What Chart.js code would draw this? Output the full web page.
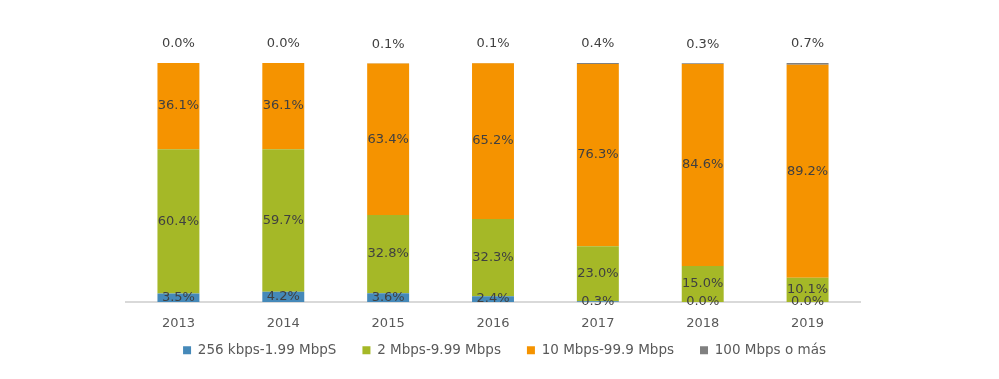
<!DOCTYPE html>
<html>
<head>
<meta charset="utf-8">
<script src="https://cdn.jsdelivr.net/npm/chart.js@4/dist/chart.umd.min.js"></script>
<style>
  body { margin: 0; background: #fff; }
</style>
</head>
<body>
<canvas id="chart" width="999" height="379"></canvas>
<script>
// years on the x axis
const years = ['2013', '2014', '2015', '2016', '2017', '2018', '2019'];

// share of connections per speed band (%)
const band256k = [3.5, 4.2, 3.6, 2.4, 0.3, 0.0, 0.0];
const band2M = [60.4, 59.7, 32.8, 32.3, 23.0, 15.0, 10.1];
const band10M = [36.1, 36.1, 63.4, 65.2, 76.3, 84.6, 89.2];
const band100M = [0.0, 0.0, 0.1, 0.1, 0.4, 0.3, 0.7];

const seriesNames = ['256 kbps-1.99 MbpS', '2 Mbps-9.99 Mbps', '10 Mbps-99.9 Mbps', '100 Mbps o más'];
const colors = ['#4589B9', '#A5B827', '#F59300', '#808080'];

const labelFont = '13px "DejaVu Sans"';

// draws the % values on the bars (no datalabels plugin available)
const barLabels = {
    id: 'barLabels',
    afterLayout(chart) {
        // center the legend over the whole canvas, not just the plot area
        chart.legend.left = 5;
        chart.legend.right = chart.width + 5;
        // x axis box was shrunk in afterFit; widen it again so tick labels aren't clipped
        const x = chart.scales.x;
        x.bottom = x.top + 40;
    },
    afterDatasetsDraw(chart) {
        const ctx = chart.ctx;
        ctx.save();
        ctx.font = labelFont;
        ctx.fillStyle = '#404040';
        ctx.textAlign = 'center';
        ctx.textBaseline = 'middle';
        chart.data.datasets.forEach((ds, di) => {
            const meta = chart.getDatasetMeta(di);
            meta.data.forEach((bar, i) => {
                const txt = ds.data[i].toFixed(1) + '%';
                let y = (bar.y + bar.base) / 2;
                if (di === chart.data.datasets.length - 1) {
                    y = bar.y - 19;
                }
                ctx.fillText(txt, bar.x, y);
            });
        });
        ctx.restore();
    }
};

new Chart(document.getElementById('chart'), {
    type: 'bar',
    data: {
        labels: years,
        datasets: [
            { label: seriesNames[0], data: band256k, backgroundColor: colors[0] },
            { label: seriesNames[1], data: band2M, backgroundColor: colors[1] },
            { label: seriesNames[2], data: band10M, backgroundColor: colors[2] },
            { label: seriesNames[3], data: band100M, backgroundColor: colors[3] }
        ]
    },
    options: {
        responsive: false,
        animation: false,
        layout: { padding: { left: 126, right: 139, top: 63, bottom: 12 } },
        datasets: {
            bar: { barPercentage: 0.4, categoryPercentage: 1.0 }
        },
        scales: {
            x: {
                stacked: true,
                grid: { display: false },
                border: { color: '#D9D9D9', width: 2 },
                ticks: { color: '#595959', font: { family: 'DejaVu Sans', size: 13 }, padding: 6 },
                afterFit(scale) {
                    scale.height = scale.height - 20;
                }
            },
            y: {
                stacked: true,
                display: false,
                min: 0,
                max: 100
            }
        },
        plugins: {
            tooltip: { enabled: false },
            legend: {
                position: 'bottom',
                labels: {
                    boxWidth: 8,
                    boxHeight: 8,
                    padding: 26,
                    color: '#595959',
                    font: { family: 'DejaVu Sans', size: 13.5 }
                }
            }
        }
    },
    plugins: [barLabels]
});
</script>
</body>
</html>
